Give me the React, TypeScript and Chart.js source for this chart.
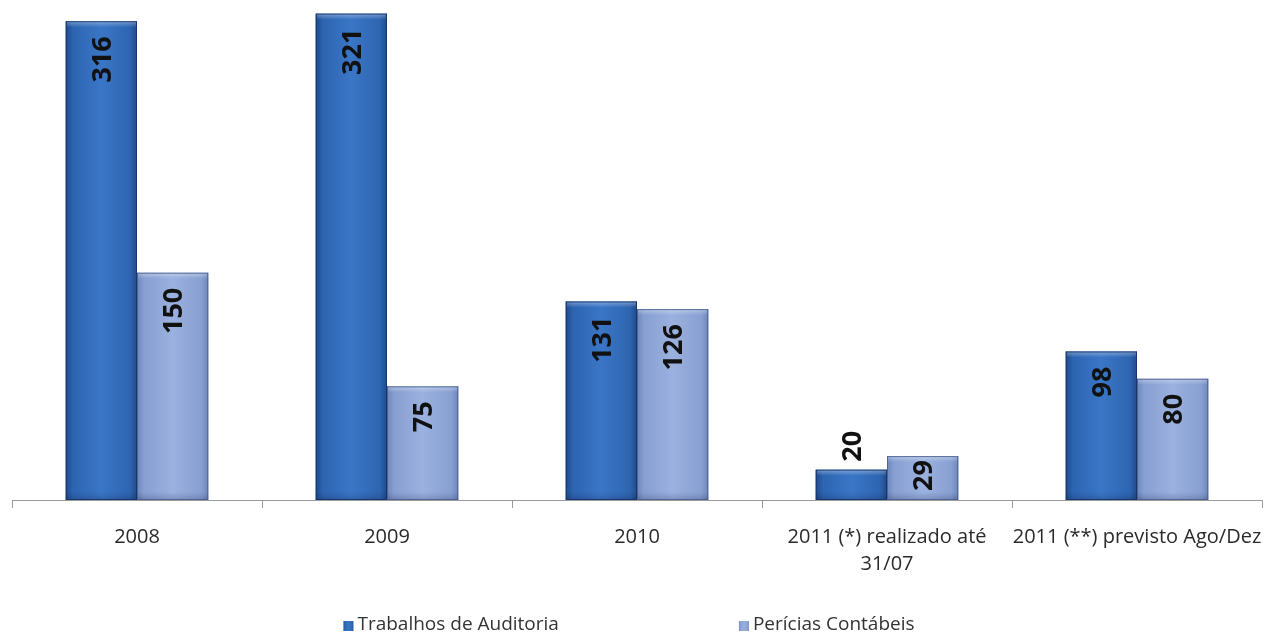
import React, { useEffect, useRef } from "react";
import { Chart, registerables } from "chart.js";

Chart.register(...registerables);

const categories: (string | string[])[] = [
  "2008",
  "2009",
  "2010",
  ["2011 (*) realizado até", "31/07"],
  "2011 (**) previsto Ago/Dez",
];
const seriesNames = ["Trabalhos de Auditoria", "Perícias Contábeis"];
const auditoria = [316, 321, 131, 20, 98];
const pericias = [150, 75, 126, 29, 80];
const yMax = 330;

const FONT = '"Open Sans", "DejaVu Sans", sans-serif';

const darkStops: [number, string][] = [
  [0, "#1f4a8c"],
  [0.1, "#2d64b0"],
  [0.5, "#3a76c6"],
  [0.9, "#2e65b0"],
  [1, "#1f4a8c"],
];
const lightStops: [number, string][] = [
  [0, "#6e87bc"],
  [0.1, "#879fd1"],
  [0.5, "#9bb1df"],
  [0.9, "#88a0d1"],
  [1, "#6e87bc"],
];

const barLook = {
  id: "barLook",
  afterDatasetsDraw(chart: any) {
    const ctx = chart.ctx as CanvasRenderingContext2D;
    chart.data.datasets.forEach((ds: any, di: number) => {
      const meta = chart.getDatasetMeta(di);
      const stops = di === 0 ? darkStops : lightStops;
      meta.data.forEach((el: any, i: number) => {
        const { x, y, base, width } = el.getProps(["x", "y", "base", "width"], true);
        const left = x - width / 2;
        const right = x + width / 2;
        const g = ctx.createLinearGradient(left, 0, right, 0);
        stops.forEach(([o, c]) => g.addColorStop(o, c));
        ctx.save();
        ctx.fillStyle = g;
        ctx.fillRect(left, y, width, base - y);
        const tg = ctx.createLinearGradient(0, y, 0, y + 6);
        tg.addColorStop(0, "rgba(255,255,255,0.35)");
        tg.addColorStop(1, "rgba(255,255,255,0)");
        ctx.fillStyle = tg;
        ctx.fillRect(left + 1, y, width - 2, 6);
        const bg = ctx.createLinearGradient(0, base - 8, 0, base);
        bg.addColorStop(0, "rgba(0,0,40,0)");
        bg.addColorStop(1, "rgba(0,0,40,0.18)");
        ctx.fillStyle = bg;
        ctx.fillRect(left, base - 8, width, 8);
        ctx.strokeStyle = di === 0 ? "rgba(20,50,100,0.8)" : "rgba(70,90,140,0.8)";
        ctx.lineWidth = 1;
        ctx.strokeRect(left + 0.5, y + 0.5, width - 1, base - y - 1);
        ctx.restore();

        const v = ds.data[i];
        const text = String(v);
        ctx.save();
        ctx.font = `bold 27px ${FONT}`;
        ctx.fillStyle = "#111";
        ctx.textBaseline = "middle";
        const tl = ctx.measureText(text).width;
        const h = base - y;
        if (h >= tl + 30) {
          ctx.translate(x + 1, y + 15);
          ctx.rotate(-Math.PI / 2);
          ctx.textAlign = "right";
        } else if (h >= tl + 8) {
          ctx.translate(x + 1, y + 4);
          ctx.rotate(-Math.PI / 2);
          ctx.textAlign = "right";
        } else {
          ctx.translate(x + 1, y - 8);
          ctx.rotate(-Math.PI / 2);
          ctx.textAlign = "left";
        }
        ctx.fillText(text, 0, 1);
        ctx.restore();
      });
    });
  },
};

const legendLook = {
  id: "legendLook",
  afterDraw(chart: any) {
    const ctx = chart.ctx as CanvasRenderingContext2D;
    ctx.save();
    ctx.font = `19px ${FONT}`;
    const box = 10;
    const boxGap = 4;
    const gap = 180;
    const widths = seriesNames.map((n) => box + boxGap + ctx.measureText(n).width);
    const total = widths[0] + gap + widths[1];
    let xPos = chart.width / 2 - 6 - total / 2;
    const yMid = 625;
    seriesNames.forEach((n, i) => {
      const stops = i === 0 ? darkStops : lightStops;
      const g = ctx.createLinearGradient(xPos, 0, xPos + box, 0);
      stops.forEach(([o, c]) => g.addColorStop(o, c));
      ctx.fillStyle = g;
      ctx.fillRect(xPos, yMid - box / 2 + 1, box, box);
      ctx.fillStyle = "#333";
      ctx.textAlign = "left";
      ctx.textBaseline = "middle";
      ctx.fillText(n, xPos + box + boxGap, yMid);
      xPos += widths[i] + gap;
    });
    ctx.restore();
  },
};

export default function App() {
  const ref = useRef<HTMLCanvasElement | null>(null);
  useEffect(() => {
    document.body.style.margin = "0";
    if (!ref.current) return;
    const chart = new Chart(ref.current, {
      type: "bar",
      data: {
        labels: categories,
        datasets: [
          {
            label: seriesNames[0],
            data: auditoria,
            backgroundColor: "#3a76c6",
            barPercentage: 1,
            categoryPercentage: 0.57,
          },
          {
            label: seriesNames[1],
            data: pericias,
            backgroundColor: "#9bb1df",
            barPercentage: 1,
            categoryPercentage: 0.57,
          },
        ],
      },
      options: {
        responsive: false,
        animation: false,
        layout: { padding: { left: 12, right: 8, top: 0, bottom: 0 } },
        plugins: {
          legend: { display: false },
          tooltip: { enabled: false },
        },
        scales: {
          x: {
            grid: {
              display: true,
              drawOnChartArea: false,
              drawTicks: true,
              tickLength: 8,
              color: "#9a9a9a",
              offset: true,
            },
            border: { display: true, color: "#9a9a9a", width: 1 },
            ticks: {
              color: "#2a2a2a",
              padding: 16,
              maxRotation: 0,
              autoSkip: false,
              font: { family: FONT, size: 20, lineHeight: 1.35 },
            },
            afterFit: (scale: any) => {
              scale.height = 135;
              scale.paddingLeft = 0;
              scale.paddingRight = 0;
            },
          },
          y: {
            display: false,
            min: 0,
            max: yMax,
          },
        },
      },
      plugins: [barLook, legendLook],
    });
    return () => chart.destroy();
  }, []);
  return (
    <div style={{ width: 1270, height: 635, background: "#fff" }}>
      <canvas ref={ref} width={1270} height={635} />
    </div>
  );
}
